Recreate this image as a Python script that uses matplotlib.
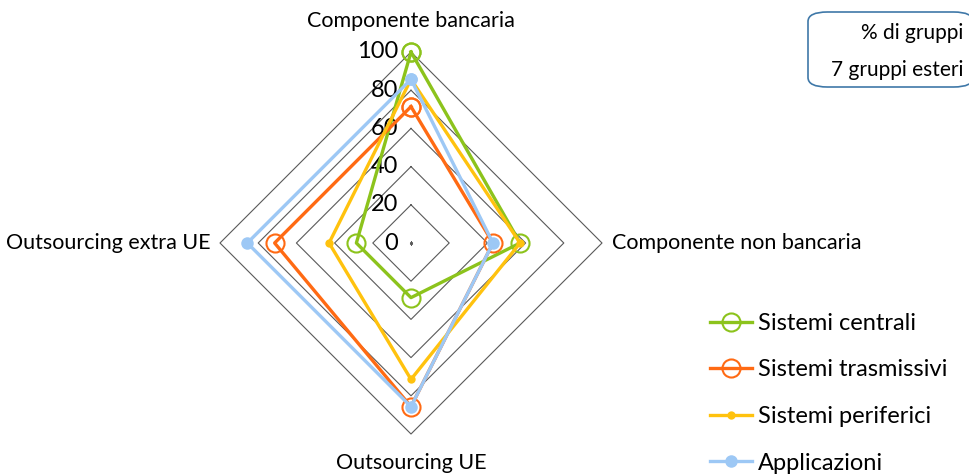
import numpy as np
import matplotlib
matplotlib.use("Agg")
import matplotlib.pyplot as plt
from matplotlib.patches import FancyBboxPatch

plt.rcParams['font.family'] = ['Lato', 'DejaVu Sans']

categories = ["Componente bancaria", "Componente non bancaria", "Outsourcing UE", "Outsourcing extra UE"]
series_names = ["Sistemi centrali", "Sistemi trasmissivi", "Sistemi periferici", "Applicazioni"]
sistemi_centrali = [100.0, 57.1, 28.6, 28.6]
sistemi_trasmissivi = [71.4, 42.9, 85.7, 71.4]
sistemi_periferici = [85.7, 57.1, 71.4, 42.9]
applicazioni = [85.7, 42.9, 85.7, 85.7]
r_ticks = [0, 20, 40, 60, 80, 100]
box_lines = ["% di gruppi", "7 gruppi esteri"]

colors = ["#8CC31C", "#FF6A13", "#FFC20E", "#9DC8F5"]
marker_styles = [
    dict(marker='o', markersize=13, markerfacecolor='none', markeredgewidth=1.5),
    dict(marker='o', markersize=13, markerfacecolor='none', markeredgewidth=1.5),
    dict(marker='o', markersize=6, markeredgewidth=0),
    dict(marker='o', markersize=9, markeredgewidth=0),
]
values = [sistemi_centrali, sistemi_trasmissivi, sistemi_periferici, applicazioni]

W, H = 969, 475
fig = plt.figure(figsize=(W / 100, H / 100), dpi=100)
cx, cy, R = 411, 243, 191
ax = fig.add_axes([(cx - R) / W, (H - cy - R) / H, 2 * R / W, 2 * R / H], projection='polar')
ax.set_theta_offset(np.pi / 2)
ax.set_theta_direction(-1)
ax.set_ylim(0, 100)
ax.grid(False)
ax.spines['polar'].set_visible(False)
ax.set_xticks([])
ax.set_yticks([])
ax.patch.set_alpha(0)

n = len(categories)
theta = np.linspace(0, 2 * np.pi, n, endpoint=False)
theta_c = np.append(theta, theta[0])

# diamond gridlines
for lv in r_ticks:
    ax.plot(theta_c, [lv] * (n + 1), color='#595959', lw=0.8, zorder=1, clip_on=False)
ax.plot([0], [0], marker='s', markersize=1.2, color='#595959', zorder=1)

# tick labels
for lv in r_ticks:
    ax.annotate(str(lv), xy=(0, lv), xytext=(-9, 0), textcoords='offset points',
                ha='right', va='center', fontsize=17, color='#000000', zorder=2)

# category labels
offsets = [((0, 22), 'center', 'center'), ((7, 0), 'left', 'center'),
           ((0, -21), 'center', 'center'), ((-7, 0), 'right', 'center')]
for t, lab, (off, ha, va) in zip(theta, categories, offsets):
    ax.annotate(lab, xy=(t, 100), xytext=off, textcoords='offset points',
                ha=ha, va=va, fontsize=15.5, color='#000000')

handles = []
for name, vals, c, ms in zip(series_names, values, colors, marker_styles):
    v = np.append(vals, vals[0])
    h, = ax.plot(theta_c, v, color=c, lw=2.4, label=name, clip_on=False, zorder=3,
                 markeredgecolor=c, **ms)
    if ms.get('markerfacecolor') != 'none':
        h.set_markerfacecolor(c)
    handles.append(h)

leg = fig.legend(handles=handles, loc='upper left', bbox_to_anchor=(710 / W, 1 - 313 / H),
                 frameon=False, fontsize=17, handlelength=1.78, handletextpad=0.25,
                 labelspacing=1.08, borderaxespad=0, borderpad=0)

# box top right
box = FancyBboxPatch((808 / W, 1 - 87 / H), 165 / W, 75 / H,
                     boxstyle="round,pad=0,rounding_size=0.02", transform=fig.transFigure,
                     facecolor='white', edgecolor='#3F78A8', lw=1.2, clip_on=False)
fig.patches.append(box)
fig.text(963 / W, 1 - 33 / H, box_lines[0], ha='right', va='center', fontsize=15)
fig.text(963 / W, 1 - 70 / H, box_lines[1], ha='right', va='center', fontsize=15)

fig.savefig('out.png', dpi=100)
